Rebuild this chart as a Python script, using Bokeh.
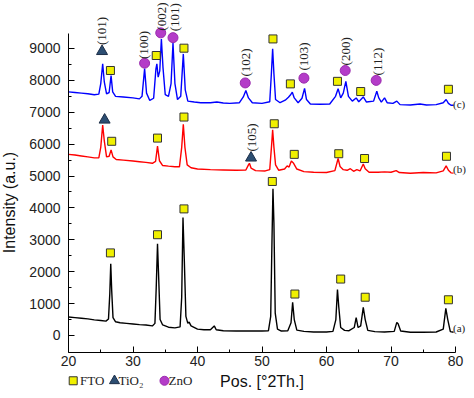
from bokeh.plotting import figure
from bokeh.models import Range1d, FixedTicker, ColumnDataSource
from bokeh.core.properties import value
from bokeh.embed import file_html
from bokeh.resources import INLINE
import math

# ---------------- data ----------------
a_x = [20.0, 21.0, 22.0, 23.0, 24.0, 25.0, 25.8, 26.2, 26.4, 26.55, 26.7, 26.9, 27.3, 28.0, 29.0,
       30.0, 31.0, 32.0, 33.0, 33.4, 33.6, 33.8, 33.95, 34.2, 34.6, 35.5, 36.5, 37.3, 37.55, 37.75,
       37.95, 38.2, 38.5, 38.7, 39.0, 40.0, 41.0, 42.0, 42.4, 42.6, 42.9, 44.0, 46.0, 48.0, 50.0,
       51.0, 51.35, 51.55, 51.7, 51.85, 52.05, 52.4, 53.0, 54.0, 54.5, 54.75, 55.0, 55.4, 56.5, 58.0,
       60.0, 61.0, 61.45, 61.7, 61.9, 62.2, 62.8, 63.5, 64.3, 64.6, 64.9, 65.3, 65.7, 66.0, 66.4,
       67.5, 69.0, 70.5, 70.9, 71.1, 71.5, 73.0, 75.0, 77.0, 78.1, 78.5, 78.8, 79.2, 79.7]
a_y = [580, 560, 540, 520, 490, 470, 450, 520, 1300, 2250, 1400, 560, 430, 400, 380,
       360, 340, 330, 300, 380, 1500, 2880, 2000, 500, 330, 260, 240, 270, 1200, 3700,
       2400, 600, 380, 420, 300, 200, 180, 180, 260, 300, 180, 150, 140, 140, 140,
       150, 600, 3000, 4600, 3500, 700, 200, 140, 150, 400, 1040, 500, 170, 130, 110,
       110, 130, 500, 1440, 900, 250, 160, 150, 250, 560, 250, 300, 880, 500, 160,
       120, 110, 130, 410, 370, 140, 100, 100, 110, 200, 850, 500, 120, 100]

b_x = [20.0, 21.0, 22.0, 23.0, 24.0, 24.7, 25.0, 25.3, 25.55, 25.9, 26.3, 26.6, 26.9, 27.4, 28.5,
       30.0, 31.0, 32.0, 33.0, 33.5, 33.8, 34.1, 34.6, 35.5, 36.5, 37.2, 37.55, 37.8, 38.05, 38.4,
       39.0, 40.0, 42.0, 44.0, 46.0, 47.5, 47.9, 48.05, 48.3, 49.0, 50.5, 51.2, 51.5, 51.65, 51.85,
       52.1, 52.6, 53.5, 53.9, 54.2, 54.55, 54.9, 55.4, 56.5, 58.0, 60.0, 61.3, 61.8, 62.1, 62.6,
       63.2, 63.7, 64.2, 64.7, 65.2, 65.7, 66.0, 66.6, 68.0, 69.0, 70.0, 70.8, 71.3, 73.0, 75.0,
       77.0, 78.1, 78.55, 78.9, 79.3, 79.7]
b_y = [5680, 5660, 5630, 5600, 5570, 5570, 5900, 6600, 6100, 5600, 5620, 5820, 5600, 5520, 5500,
       5470, 5450, 5430, 5400, 5460, 5940, 5480, 5330, 5310, 5290, 5290, 5900, 6620, 5900, 5350,
       5260, 5220, 5200, 5190, 5180, 5190, 5350, 5400, 5250, 5170, 5160, 5200, 6000, 6450, 5900,
       5350, 5180, 5220, 5320, 5280, 5470, 5400, 5220, 5140, 5120, 5110, 5170, 5550, 5300, 5200,
       5180, 5230, 5150, 5200, 5160, 5380, 5230, 5120, 5120, 5130, 5120, 5170, 5110, 5090, 5110,
       5100, 5160, 5320, 5180, 5100, 5090]

c_x = [20.0, 21.0, 22.0, 23.0, 24.0, 24.7, 25.0, 25.3, 25.55, 25.9, 26.3, 26.6, 26.85, 27.3, 28.5,
       30.0, 31.0, 31.4, 31.8, 32.1, 32.6, 33.2, 33.55, 33.7, 33.9, 34.15, 34.4, 34.65, 35.0, 35.5,
       35.9, 36.2, 36.5, 36.9, 37.4, 37.8, 38.1, 38.5, 39.5, 40.5, 42.0, 43.0, 44.0, 45.0, 46.5,
       47.1, 47.5, 47.9, 48.5, 50.0, 51.2, 51.45, 51.65, 51.85, 52.1, 52.8, 53.6, 54.1, 54.4, 54.7,
       55.0, 55.6, 56.2, 56.6, 56.9, 57.5, 59.0, 60.5, 61.4, 61.8, 62.2, 62.6, 63.0, 63.4, 64.0,
       64.6, 65.0, 65.7, 66.2, 67.3, 67.8, 68.1, 68.5, 69.0, 69.4, 70.3, 70.9, 71.4, 73.0, 74.5,
       75.5, 77.0, 78.1, 78.55, 78.9, 79.3, 79.7]
c_y = [7640, 7620, 7600, 7580, 7550, 7570, 7900, 8520, 7950, 7580, 7620, 8150, 7640, 7500, 7480,
       7450, 7420, 7500, 8370, 7600, 7370, 7440, 8350, 8520, 8100, 8300, 9300, 8400, 7550, 7500,
       7900, 9170, 7900, 7400, 7500, 8830, 7700, 7350, 7320, 7300, 7300, 7320, 7290, 7280, 7300,
       7480, 7680, 7450, 7300, 7280, 7330, 8200, 8990, 8200, 7400, 7300, 7380, 7470, 7540, 7630,
       7450, 7300, 7440, 7750, 7400, 7260, 7250, 7260, 7500, 7740, 7450, 7600, 7970, 7500, 7350,
       7450, 7330, 7480, 7320, 7350, 7660, 7450, 7320, 7450, 7300, 7280, 7350, 7240, 7230, 7260,
       7230, 7240, 7300, 7400, 7280, 7220, 7220]

fto_x = [26.5, 33.8, 37.9, 51.6, 55.1, 62.2, 66.0, 78.9,
         26.7, 33.8, 37.9, 51.9, 55.0, 61.9, 65.9, 78.6,
         26.5, 33.6, 37.9, 51.7, 54.4, 61.7, 65.3, 78.9]
fto_y = [2590, 3160, 3970, 4830, 1300, 1770, 1200, 1120,
         6090, 6190, 6850, 6640, 5680, 5700, 5550, 5620,
         8310, 8780, 9010, 9300, 7890, 7970, 7650, 7720]
tio2_x = [25.2, 25.6, 48.3]
tio2_y = [8910, 6760, 5570]
zno_x = [31.8, 34.3, 36.2, 47.4, 56.5, 62.9, 67.7]
zno_y = [8540, 9490, 9340, 7920, 8070, 8310, 8000]

hkl_x = [25.1, 31.6, 34.4, 36.4, 47.4, 56.5, 62.9, 67.9, 48.4]
hkl_y = [9550, 9110, 10000, 9980, 8560, 8750, 8910, 8590, 6210]
hkl_text = ["(101)", "(100)", "(002)", "(101)", "(102)", "(103)", "(200)", "(112)", "(105)"]

name_x = [79.62, 79.62, 79.62]
name_y = [250, 5210, 7250]
name_text = ["(a)", "(b)", "(c)"]

legend_labels = ["FTO", "TiO₂", "ZnO"]
x_label = "Pos. [°2Th.]"
y_label = "Intensity (a.u.)"
x_ticks = [20, 30, 40, 50, 60, 70, 80]
y_ticks = [0, 1000, 2000, 3000, 4000, 5000, 6000, 7000, 8000, 9000]

# ---------------- figure ----------------
X_AX, Y_AX = 20, -533          # where the two axes cross
p = figure(width=466, height=390, output_backend="svg", toolbar_location=None,
           x_range=Range1d(9.457, 81.705), y_range=Range1d(-1725, 10505), min_border=0)
p.outline_line_color = None
p.xgrid.visible = False
p.ygrid.visible = False

p.line(a_x, a_y, line_color="#000000", line_width=1.4)
p.line(b_x, b_y, line_color="#ff0000", line_width=1.4)
p.line(c_x, c_y, line_color="#0000ff", line_width=1.4)

sq_style = dict(marker="square", fill_color="#f0f000", line_color="#333333", line_width=1)
tr_style = dict(marker="triangle", fill_color="#2c4e72", line_color="#1c2e48", line_width=1)
ci_style = dict(marker="circle", fill_color="#b43cc8", line_color="#9a2cae", line_width=1)
p.scatter(fto_x, fto_y, size=8, **sq_style)
p.scatter(tio2_x, tio2_y, size=11, **tr_style)
p.scatter(zno_x, zno_y, size=10, **ci_style)

hkl_src = ColumnDataSource(dict(x=hkl_x, y=hkl_y, t=hkl_text))
p.text(x="x", y="y", text="t", source=hkl_src, angle=math.pi / 2, text_align="center",
       text_baseline="middle", text_font=value("Liberation Serif"), text_font_size="13px",
       text_color="#222222")
name_src = ColumnDataSource(dict(x=name_x, y=name_y, t=name_text))
p.text(x="x", y="y", text="t", source=name_src, text_align="left", text_baseline="middle",
       text_font=value("Liberation Serif"), text_font_size="11px", text_color="#222222")

# axes: fixed at the crossing point so the titles and legend can sit in the plot area
xa = p.xaxis[0]
ya = p.yaxis[0]
xa.fixed_location = Y_AX
ya.fixed_location = X_AX
xa.bounds = (20, 80)
ya.bounds = (Y_AX, 9470)
xa.ticker = FixedTicker(ticks=x_ticks, minor_ticks=[25, 35, 45, 55, 65, 75])
ya.ticker = FixedTicker(ticks=y_ticks, minor_ticks=[500, 1500, 2500, 3500, 4500, 5500, 6500, 7500, 8500])
for ax in (xa, ya):
    ax.axis_line_color = "black"
    ax.axis_line_width = 1
    ax.major_tick_in = 6
    ax.major_tick_out = 0
    ax.minor_tick_in = 3
    ax.minor_tick_out = 0
    ax.major_tick_line_color = "black"
    ax.minor_tick_line_color = "black"
    ax.major_label_text_font = "Liberation Sans"
    ax.major_label_text_font_size = "14px"
    ax.major_label_text_color = "#222222"
xa.major_label_standoff = 4
ya.major_label_standoff = 8

# axis titles
p.text(x=[50], y=[-1450], text=[x_label], text_align="center", text_baseline="middle",
       text_font=value("Liberation Sans"), text_font_size="16px", text_color="#111111")
p.text(x=[10.85], y=[4170], text=[y_label], angle=math.pi / 2, text_align="center",
       text_baseline="middle", text_font=value("Liberation Sans"), text_font_size="16px",
       text_color="#111111")

# legend row
leg_y = -1420
p.scatter([20.73], [leg_y], size=8, **sq_style)
p.scatter([27.13], [leg_y], size=10, **tr_style)
p.scatter([34.88], [leg_y], size=9, **ci_style)
p.text(x=[21.8, 27.75, 35.5], y=[leg_y] * 3, text=legend_labels, text_align="left",
       text_baseline="middle", text_font=value("Liberation Serif"), text_font_size="13px",
       text_color="#222222")

open("out.html", "w").write(file_html(p, INLINE))
